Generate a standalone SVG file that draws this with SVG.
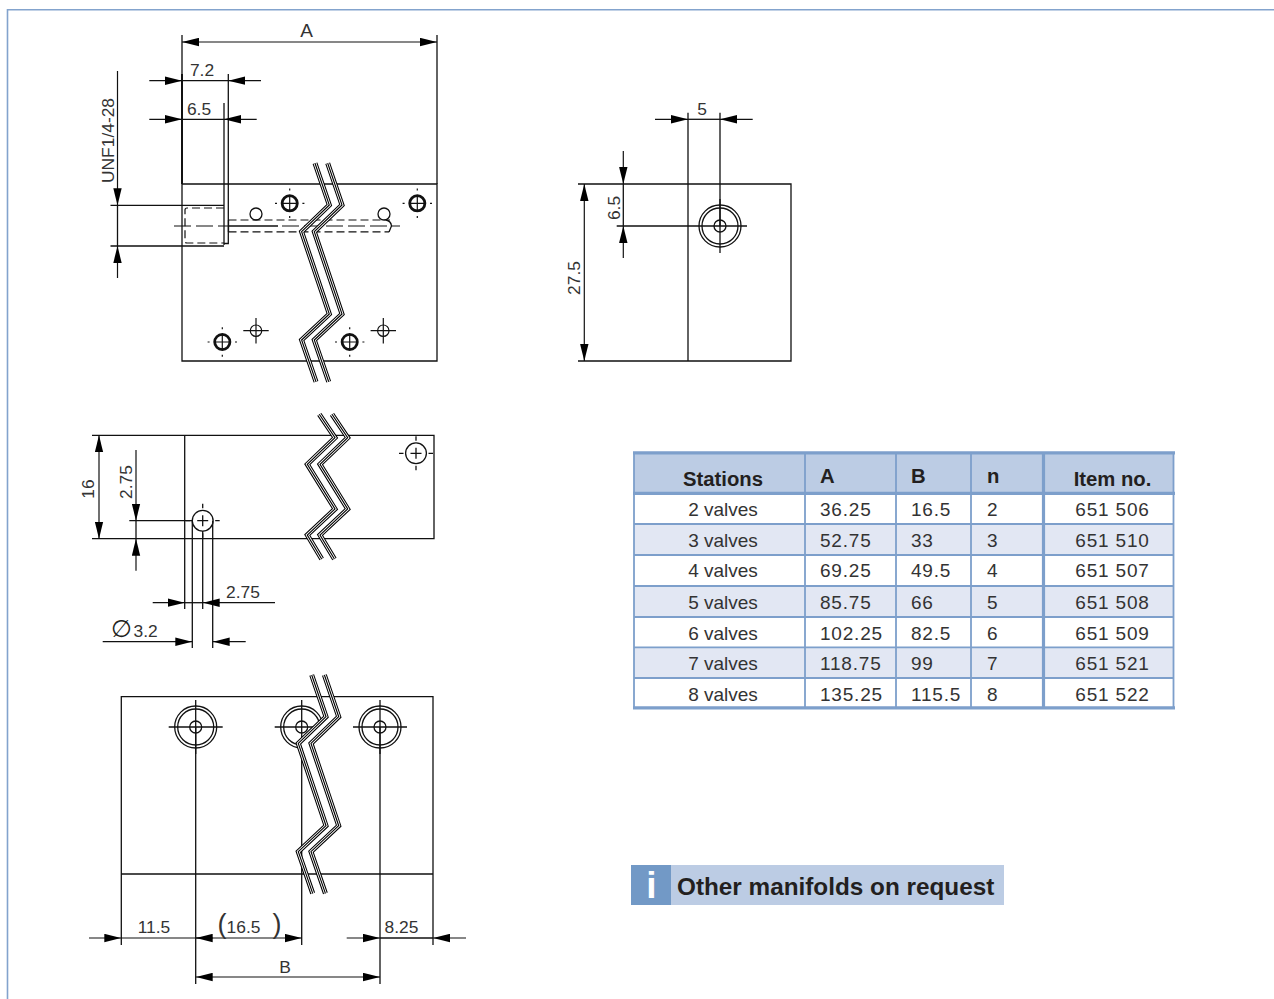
<svg xmlns="http://www.w3.org/2000/svg" xmlns:xlink="http://www.w3.org/1999/xlink" width="1274" height="999" viewBox="0 0 1274 999">
<style>
text{font-family:"Liberation Sans",Arial,sans-serif;fill:#231f20}
.d{font-size:17.4px;text-anchor:middle;fill:#333}
.l{fill:none;stroke:#111;stroke-width:1.3}
.t{fill:none;stroke:#111;stroke-width:2}
.a{fill:none;stroke:#111;stroke-width:1.2;marker-end:url(#ar)}
.b{fill:none;stroke:#111;stroke-width:1.2;marker-start:url(#ar);marker-end:url(#ar)}
.dash{fill:none;stroke:#111;stroke-width:1.2;stroke-dasharray:8 4}
.ctr{fill:none;stroke:#111;stroke-width:1.2;stroke-dasharray:17 5}
.th{font-size:20.3px;font-weight:bold}
.c{font-size:19px;}
.c text{fill:#333}
.n{letter-spacing:.8px}
.m{text-anchor:middle}
.grid{stroke:#7d9fcb;fill:none}
</style>
<defs>
<marker id="ar" markerUnits="userSpaceOnUse" markerWidth="17" markerHeight="9" viewBox="0 0 17 9" refX="17" refY="4.5" orient="auto-start-reverse"><path d="M0 .3L17 4.5L0 8.7Z" fill="#000"/></marker>
<g id="brk" fill="none" stroke-linejoin="miter" stroke-miterlimit="6">
<polyline points="0,0 14.3,41.7 -13.4,68.4 14.3,150.7 -13.4,176.7 1,218.4" stroke="#000" stroke-width="5"/>
<polyline points="0,0 14.3,41.7 -13.4,68.4 14.3,150.7 -13.4,176.7 1,218.4" stroke="#fff" stroke-width="2.9"/>
<polyline points="0,0 14.3,41.7 -13.4,68.4 14.3,150.7 -13.4,176.7 1,218.4" stroke="#000" stroke-width="1.1"/>
</g>
<g id="brkS" fill="none" stroke-linejoin="miter" stroke-miterlimit="6">
<polyline points="0,0 15.7,23.4 -12,50 15.7,94.7 -12,120.7 2.4,144.7" stroke="#000" stroke-width="5"/>
<polyline points="0,0 15.7,23.4 -12,50 15.7,94.7 -12,120.7 2.4,144.7" stroke="#fff" stroke-width="2.9"/>
<polyline points="0,0 15.7,23.4 -12,50 15.7,94.7 -12,120.7 2.4,144.7" stroke="#000" stroke-width="1.1"/>
</g>
<g id="hA" fill="none" stroke="#111">
<circle r="7.6" stroke-width="2.8"/>
<path d="M-7.6 0H7.6M0-7.6V7.6M-14.7 0H-12.7M12.7 0H14.7M0-14.7V-12.7M0 12.7V14.7" stroke-width="1.2"/>
</g>
<g id="hB" fill="none" stroke="#111" stroke-width="1.2">
<circle r="5.7"/>
<path d="M-12.7 0H12.7M0-12.7V12.7"/>
</g>
<g id="hC" fill="none" stroke="#111" stroke-width="1.3">
<circle r="10.4"/>
<path d="M-5.5 0H5.5M0-5.5V5.5M-17 0H-12.5M12.5 0H17M0-17V-12.5M0 12.5V17"/>
</g>
<g id="port" fill="none" stroke="#111" stroke-width="1.3">
<circle r="21"/><circle r="18"/><circle r="6"/>
<path d="M-27 0H27M0-27V27"/>
</g>
<clipPath id="clipMid"><path d="M200 660H311.7L326 717.3L298.3 744L298.3 770H200Z"/></clipPath>
</defs>
<rect width="1274" height="999" fill="#fff"/>
<path id="frame" d="M7.5 999V9.700H1274" fill="none" stroke="#83a3cd" stroke-width="1.6"/>

<g id="view-top-left">
<path class="l" d="M182 184H437V361H182V184"/>
<path class="t" d="M182 74V184"/>
<path class="l" d="M437 35V184M182 35V74M228.300 74V243.500H224M224 103V245M110.500 205.300H224M110.500 246H224"/>
<path class="dash" d="M224 208H187Q185 208 185 210V241Q185 243 187 243H224"/>
<path class="ctr" d="M174 226H228"/>
<path class="l" d="M228 226H278M228.500 220V232"/>
<path class="dash" d="M228.500 220H390M228.500 231.800H389"/>
<path class="ctr" d="M282 226H400"/>
<path class="l" d="M386 220Q391 221 391.500 226L389 232"/>
<circle class="l" cx="256" cy="214" r="6"/>
<circle class="l" cx="384" cy="214" r="6"/>
<use xlink:href="#hA" href="#hA" x="289.700" y="203.300"/>
<use xlink:href="#hA" href="#hA" x="417.300" y="203.300"/>
<use xlink:href="#hA" href="#hA" x="222.300" y="342"/>
<use xlink:href="#hA" href="#hA" x="349.700" y="342"/>
<use xlink:href="#hB" href="#hB" x="256" y="330.700"/>
<use xlink:href="#hB" href="#hB" x="383.300" y="330.700"/>
<use xlink:href="#brk" href="#brk" x="315" y="163.300"/>
<use xlink:href="#brk" href="#brk" x="327.700" y="163.300"/>
<line class="b" x1="182" y1="42" x2="437" y2="42"/>
<line class="a" x1="149.300" y1="80.700" x2="182" y2="80.700"/>
<line class="l" x1="182" y1="80.700" x2="228.300" y2="80.700"/>
<line class="a" x1="261" y1="80.700" x2="228.300" y2="80.700"/>
<line class="a" x1="149.300" y1="119.300" x2="182" y2="119.300"/>
<line class="l" x1="182" y1="119.300" x2="224" y2="119.300"/>
<line class="a" x1="256.700" y1="119.300" x2="224" y2="119.300"/>
<line class="a" x1="117.500" y1="71" x2="117.500" y2="205.300"/>
<line class="a" x1="117.500" y1="278" x2="117.500" y2="246"/>
<line class="l" x1="117.500" y1="205.300" x2="117.500" y2="246"/>
<text class="d" x="306.500" y="37" style="font-size:19px">A</text>
<text class="d" x="202" y="76">7.2</text>
<text class="d" x="199" y="115">6.5</text>
<text class="d" transform="translate(113.500,140.500) rotate(-90)">UNF1/4-28</text>
</g>

<g id="view-top-right">
<path class="l" d="M578 184H791V361H578M688 112.700V361M720 112.700V226"/>
<path class="l" d="M616.700 226H693"/>
<use xlink:href="#port" href="#port" x="720" y="226"/>
<line class="a" x1="655" y1="119.300" x2="688" y2="119.300"/>
<line class="l" x1="688" y1="119.300" x2="720" y2="119.300"/>
<line class="a" x1="752.700" y1="119.300" x2="720" y2="119.300"/>
<line class="a" x1="623.300" y1="151" x2="623.300" y2="184"/>
<line class="l" x1="623.300" y1="184" x2="623.300" y2="226"/>
<line class="a" x1="623.300" y1="258" x2="623.300" y2="226"/>
<line class="b" x1="584.300" y1="184" x2="584.300" y2="361"/>
<text class="d" x="702" y="115">5</text>
<text class="d" transform="translate(619.500,208) rotate(-90)">6.5</text>
<text class="d" transform="translate(580,278) rotate(-90)">27.5</text>
</g>

<g id="view-side">
<path class="l" d="M92 435.300H434V538.700H92M184.700 435.300V609"/>
<path class="l" d="M129.300 520.700H192M192.300 520.700V648M212.700 520.700V648M202.700 531V609"/>
<use xlink:href="#hC" href="#hC" x="202.700" y="520.700"/>
<use xlink:href="#hC" href="#hC" x="416" y="453.300"/>
<use xlink:href="#brkS" href="#brkS" x="319.300" y="414.300"/>
<use xlink:href="#brkS" href="#brkS" x="332" y="414.300"/>
<line class="b" x1="99" y1="435.300" x2="99" y2="538.700"/>
<line class="a" x1="136" y1="450" x2="136" y2="520.700"/>
<line class="l" x1="136" y1="520.700" x2="136" y2="538.700"/>
<line class="a" x1="136" y1="570.700" x2="136" y2="538.700"/>
<line class="a" x1="152.700" y1="602.700" x2="184.700" y2="602.700"/>
<line class="l" x1="184.700" y1="602.700" x2="202.700" y2="602.700"/>
<line class="a" x1="275" y1="602.700" x2="202.700" y2="602.700"/>
<line class="a" x1="102.700" y1="641.700" x2="192.300" y2="641.700"/>
<line class="a" x1="245.700" y1="641.700" x2="212.700" y2="641.700"/>
<text class="d" transform="translate(94,489) rotate(-90)">16</text>
<text class="d" transform="translate(131.500,482) rotate(-90)">2.75</text>
<text class="d" x="243" y="598">2.75</text>
<text x="121.500" y="636.500" text-anchor="middle" style="font-family:'DejaVu Sans',sans-serif;font-size:24px">∅</text>
<text x="133.500" y="637" style="font-size:17.4px;fill:#333">3.2</text>
</g>

<g id="view-bottom">
<path class="l" d="M121.300 945V696.700H433V945M121.300 874H433M195.700 727V984M380 727V984M301.700 748V945"/>
<use xlink:href="#port" href="#port" x="195.700" y="727"/>
<use xlink:href="#port" href="#port" x="380" y="727"/>
<g clip-path="url(#clipMid)"><use xlink:href="#port" href="#port" x="301.700" y="727"/></g>
<use xlink:href="#brk" href="#brk" x="311.700" y="675"/>
<use xlink:href="#brk" href="#brk" x="324.400" y="675"/>
<line class="a" x1="89" y1="938" x2="121.300" y2="938"/>
<line class="a" x1="121.300" y1="938" x2="301.700" y2="938"/>
<line class="a" x1="212.700" y1="938" x2="195.700" y2="938"/>
<line class="a" x1="346.700" y1="938" x2="380" y2="938"/>
<line class="l" x1="380" y1="938" x2="433" y2="938"/>
<line class="a" x1="466" y1="938" x2="433" y2="938"/>
<line class="b" x1="195.700" y1="977" x2="380" y2="977"/>
<text class="d" x="154" y="933">11.5</text>
<text class="d" x="222" y="933" style="font-size:27px;font-weight:normal">(</text>
<text class="d" x="243.500" y="933">16.5</text>
<text class="d" x="277" y="933" style="font-size:27px">)</text>
<text class="d" x="401.500" y="933">8.25</text>
<text class="d" x="285" y="973">B</text>
</g>

<g id="table">
<rect x="634" y="453" width="539" height="41" fill="#bccce4"/>
<rect x="634" y="524" width="539" height="31" fill="#e2e7f3"/>
<rect x="634" y="586" width="539" height="31" fill="#e2e7f3"/>
<rect x="634" y="647" width="539" height="31" fill="#e2e7f3"/>
<path class="grid" stroke-width="1.8" d="M634 452V708M805 452V708M896 452V708M971 452V708M1173.500 452V708M634 524H1174M634 555H1174M634 586H1174M634 617H1174M634 647.300H1174M634 678H1174"/>
<path class="grid" stroke-width="3.2" d="M633 452.800H1175M633 493.400H1175M633 707.800H1175M1043.500 452V708"/>
<text class="th m" x="723" y="486">Stations</text>
<text class="th" x="820" y="483">A</text>
<text class="th" x="911" y="483">B</text>
<text class="th" x="987" y="483">n</text>
<text class="th m" x="1112.500" y="486">Item no.</text>
<g class="c">
<text class="m" x="723" y="516">2 valves</text><text class="n" x="820" y="516">36.25</text><text class="n" x="911" y="516">16.5</text><text x="987" y="516">2</text><text class="n m" x="1112.500" y="516">651 506</text>
<text class="m" x="723" y="547">3 valves</text><text class="n" x="820" y="547">52.75</text><text class="n" x="911" y="547">33</text><text x="987" y="547">3</text><text class="n m" x="1112.500" y="547">651 510</text>
<text class="m" x="723" y="577">4 valves</text><text class="n" x="820" y="577">69.25</text><text class="n" x="911" y="577">49.5</text><text x="987" y="577">4</text><text class="n m" x="1112.500" y="577">651 507</text>
<text class="m" x="723" y="608.500">5 valves</text><text class="n" x="820" y="608.500">85.75</text><text class="n" x="911" y="608.500">66</text><text x="987" y="608.500">5</text><text class="n m" x="1112.500" y="608.500">651 508</text>
<text class="m" x="723" y="640">6 valves</text><text class="n" x="820" y="640">102.25</text><text class="n" x="911" y="640">82.5</text><text x="987" y="640">6</text><text class="n m" x="1112.500" y="640">651 509</text>
<text class="m" x="723" y="670">7 valves</text><text class="n" x="820" y="670">118.75</text><text class="n" x="911" y="670">99</text><text x="987" y="670">7</text><text class="n m" x="1112.500" y="670">651 521</text>
<text class="m" x="723" y="701">8 valves</text><text class="n" x="820" y="701">135.25</text><text class="n" x="911" y="701">115.5</text><text x="987" y="701">8</text><text class="n m" x="1112.500" y="701">651 522</text>
</g>
</g>

<g id="note">
<rect x="631" y="865" width="373" height="40" fill="#bccce4"/>
<rect x="631" y="865" width="40" height="40" fill="#7299c6"/>
<text x="651.500" y="898" text-anchor="middle" style="font-size:37px;font-weight:bold;fill:#fff">i</text>
<text x="677" y="895" style="font-size:24.300px;font-weight:bold">Other manifolds on request</text>
</g>
</svg>
